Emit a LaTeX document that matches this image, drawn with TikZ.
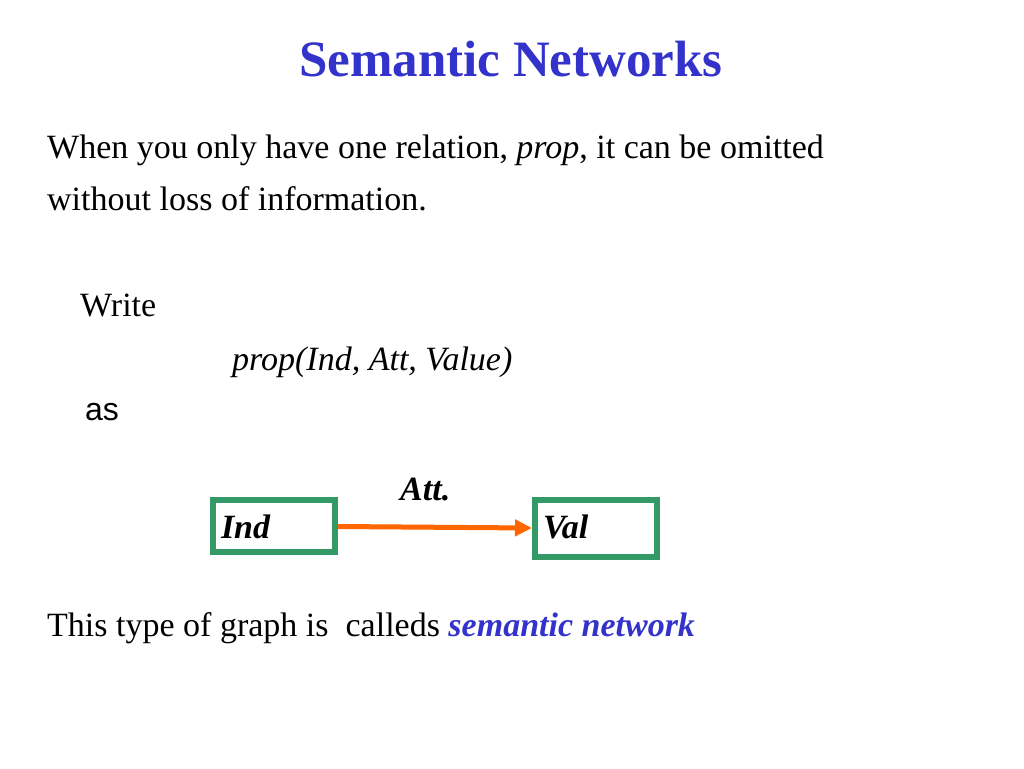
\documentclass[tikz,border=0pt]{standalone}
\usepackage{fontspec}
\setmainfont{Liberation Serif}
\setsansfont{Liberation Sans}
\usetikzlibrary{arrows.meta}
\definecolor{titleblue}{RGB}{51,51,204}
\definecolor{boxgreen}{RGB}{51,153,102}
\definecolor{arroworange}{RGB}{255,102,0}
\tikzset{
	txt/.style={anchor=base west, inner sep=0pt, font=\fontsize{34}{40}\selectfont},
	valbox/.style={draw=boxgreen, line width=6pt, inner xsep=8pt, inner ysep=0pt, text width=106pt, text depth=0pt, align=left, font=\fontsize{34}{40}\selectfont\bfseries\itshape}
}

\begin{document}
\begin{tikzpicture}[x=1pt, y=-1pt]
			%%%%% START %%%%%
			
			\useasboundingbox (0, 0) rectangle (1024, 768);
			
			\node[anchor=base, inner sep=0pt, font=\fontsize{51}{60}\selectfont\bfseries, color=titleblue] (title) at (511, 76) {Semantic Networks};
			
			\node[txt] (line1) at (47, 158) {When you only have one relation, \textit{prop}, it can be omitted};
			\node[txt] (line2) at (47, 210) {without loss of information.};
			
			\node[txt] (write) at (80, 316) {Write};
			\node[txt, font=\fontsize{34}{40}\selectfont\itshape] (formula) at (232, 370) {prop(Ind, Att, Value)};
			\node[txt, font=\fontsize{32}{38}\selectfont\sffamily] (as) at (85, 420) {as};
			
			\node[valbox, text height=25.4pt, minimum width=122pt, minimum height=52pt] (ind) at (274, 526) {Ind};
			\node[valbox, text height=20.4pt, minimum width=122pt, minimum height=57pt] (val) at (596, 528.5) {Val};
			\draw[line width=5pt, color=arroworange, -{Triangle[length=17pt, width=16pt]}] (ind) -- (val);
			\node[txt, font=\fontsize{34}{40}\selectfont\bfseries\itshape] (att) at (400, 500) {Att.};
			
			\node[txt] (footer) at (47, 636) {This type of graph is\ \ calleds \textcolor{titleblue}{\textbf{\textit{semantic network}}}};
			
			%%%%% END %%%%%
		\end{tikzpicture}
\end{document}
